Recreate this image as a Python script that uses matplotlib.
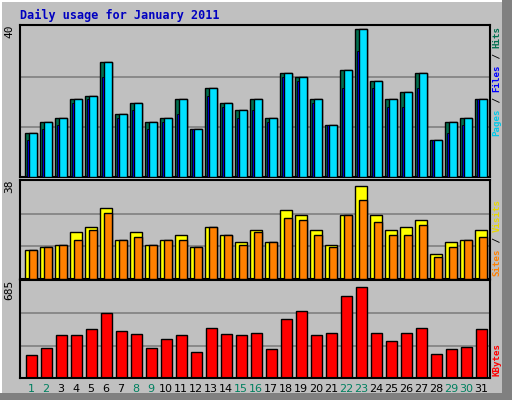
import matplotlib
matplotlib.use("Agg")
import matplotlib.pyplot as plt
from matplotlib.patches import Rectangle

days = list(range(1, 32))
weekend = [1, 2, 8, 9, 15, 16, 22, 23, 29, 30]
hits = [12, 15, 16, 21, 22, 31, 17, 20, 15, 16, 21, 13, 24, 20, 18, 21,
        16, 28, 27, 21, 14, 29, 40, 26, 21, 23, 28, 10, 15, 16, 21]
files = [10, 13, 14, 20, 21, 27, 16, 18, 13, 15, 17, 13, 22, 19, 16, 18,
         15, 27, 26, 20, 14, 24, 34, 24, 19, 19, 24, 10, 12, 14, 21]
pages = hits
visits = [12, 13, 14, 19, 21, 29, 16, 19, 14, 16, 18, 13, 21, 18, 15, 20,
          15, 28, 26, 20, 14, 26, 38, 26, 20, 21, 24, 10, 15, 16, 20]
sites = [12, 13, 14, 16, 20, 27, 16, 17, 14, 16, 16, 13, 21, 18, 14, 19,
         15, 25, 24, 18, 13, 26, 32, 23, 18, 18, 22, 9, 13, 16, 17]
kbytes = [175, 228, 325, 325, 370, 490, 355, 333, 228, 295, 325, 198, 378, 333, 325, 340,
          220, 445, 505, 325, 340, 618, 685, 340, 280, 340, 378, 183, 220, 235, 370]

W, H = 512, 400
BG = "#C0C0C0"
fig = plt.figure(figsize=(W/100, H/100), dpi=100, facecolor=BG)

# 3D frame
fig.patches.append(Rectangle((0, 0), W, H, transform=None, fc=BG, ec="none", zorder=-5))
fig.patches.append(Rectangle((502, 0), 10, 400, transform=None, fc="#808080", ec="none", zorder=-4))
fig.patches.append(Rectangle((0, 0), 512, 7, transform=None, fc="#808080", ec="none", zorder=-4))
fig.patches.append(Rectangle((0, 7), 2, 393, transform=None, fc="white", ec="none", zorder=-4))
fig.patches.append(Rectangle((0, 398), 502, 2, transform=None, fc="white", ec="none", zorder=-4))

def mkax(top, bottom):
    left, right = 20, 490
    return fig.add_axes([left/W, (H-bottom)/H, (right-left)/W, (bottom-top)/H])

def style(ax, ymax, label_top):
    ax.set_facecolor(BG)
    ax.set_xlim(0.667, 32.0)
    ax.set_ylim(0, ymax)
    for f in (0.33, 0.66):
        ax.axhline(f*ymax, color="#808080", lw=1.2, zorder=0)
    ax.set_xticks([]); ax.set_yticks([])
    for s in ax.spines.values():
        s.set_linewidth(1.5)
    ax.text(-0.012, 1.0, label_top, transform=ax.transAxes, rotation=90,
            ha="right", va="top", fontsize=8, family="DejaVu Sans Mono")

ax1 = mkax(25, 177)
style(ax1, 41.1, "40")
x = [d for d in days]
ax1.bar(x, hits, width=0.78, align="edge", color="#006F4F", edgecolor="black", lw=1, zorder=2)
ax1.bar([d+0.15 for d in days], files, width=0.12, align="edge", color="#0000FF", edgecolor="black", lw=0.6, zorder=3)
ax1.bar([d+0.29 for d in days], pages, width=0.49, align="edge", color="#00E0FF", edgecolor="black", lw=1, zorder=4)

ax2 = mkax(180, 279)
style(ax2, 40.3, "38")
ax2.bar(x, visits, width=0.78, align="edge", color="#FFFF00", edgecolor="black", lw=1, zorder=2)
ax2.bar([d+0.29 for d in days], sites, width=0.49, align="edge", color="#FF8000", edgecolor="black", lw=1, zorder=3)

ax3 = mkax(280, 378)
style(ax3, 735, "685")
ax3.bar([d+0.07 for d in days], kbytes, width=0.71, align="edge", color="#FF0000", edgecolor="black", lw=1, zorder=2)

for d in days:
    ax3.text(d+0.4, -0.06, str(d), transform=ax3.get_xaxis_transform(), ha="center", va="top",
             fontsize=8, color="#00805F" if d in weekend else "black", family="DejaVu Sans")

fig.text(20/W, 1-15/H, "Daily usage for January 2011", color="#0000C0", fontsize=8.5,
         fontweight="bold", family="DejaVu Sans Mono", va="center", ha="left")

FS = 6.6
CH = 0.602 * FS * 100 / 72
def rlabel(ybottom_px, parts):
    # parts listed bottom-to-top, rotated 90 (reading upward)
    ypos = H - ybottom_px
    for txt, col in parts:
        fig.text(497/W, ypos/H, txt, color=col, rotation=90, fontsize=FS,
                 family="DejaVu Sans Mono", fontweight="bold", va="bottom", ha="center")
        ypos += len(txt) * CH
rlabel(136, [("Pages", "#00C8E8"), (" / ", "black"), ("Files", "#0000FF"), (" / ", "black"), ("Hits", "#006F4F")])
rlabel(276, [("Sites", "#FF8000"), (" / ", "black"), ("Visits", "#E8D800")])
rlabel(376, [("KBytes", "#FF0000")])

fig.savefig("out.png", dpi=100, facecolor=BG)
